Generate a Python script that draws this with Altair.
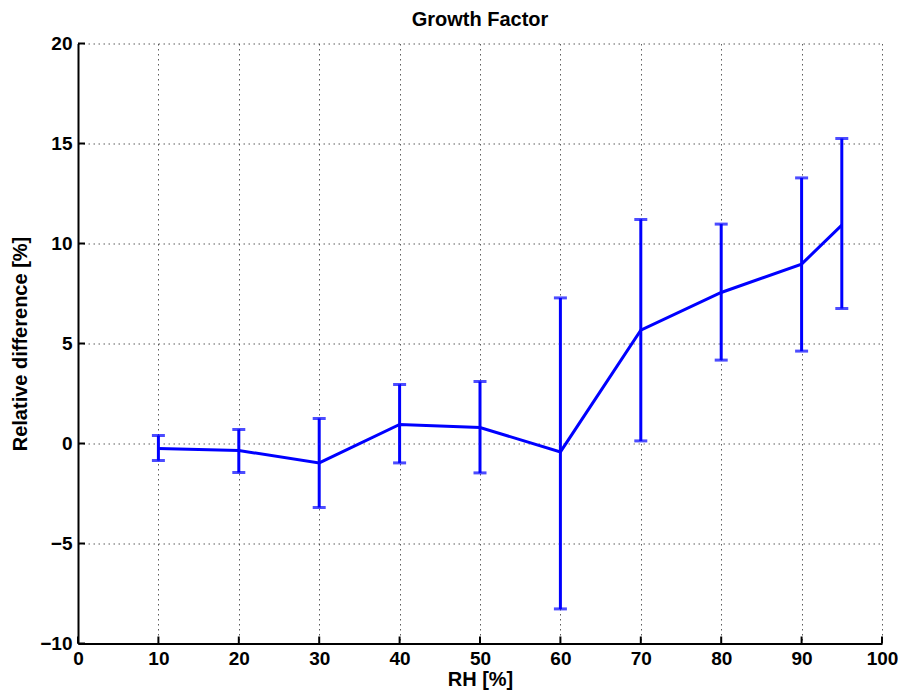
import altair as alt
import pandas as pd

# Relative difference of the growth factor vs. relative humidity
rh = [10, 20, 30, 40, 50, 60, 70, 80, 90, 95]
mean_diff = [-0.25, -0.35, -0.97, 0.95, 0.8, -0.42, 5.67, 7.55, 8.97, 10.92]
upper = [0.4, 0.7, 1.25, 2.95, 3.1, 7.28, 11.2, 10.97, 13.28, 15.25]
lower = [-0.85, -1.45, -3.2, -0.97, -1.47, -8.27, 0.13, 4.17, 4.62, 6.75]

x_ticks = [0, 10, 20, 30, 40, 50, 60, 70, 80, 90, 100]
y_ticks = [-10, -5, 0, 5, 10, 15, 20]

df = pd.DataFrame({"rh": rh, "mean": mean_diff, "lo": lower, "hi": upper})
xt = pd.DataFrame({"t": x_ticks})
yt = pd.DataFrame({"t": y_ticks})

W, H = 804, 600
FONT = "Liberation Sans"
BLUE = "#0000ff"

xs = alt.Scale(domain=[0, 100], nice=False, zero=False)
ys = alt.Scale(domain=[-10, 20], nice=False, zero=False)

common_axis = dict(
    tickSize=0,
    grid=True,
    gridDash=[1.5, 3.5],
    gridColor="#333333",
    gridWidth=1,
    gridOpacity=0.8,
    domainColor="black",
    domainWidth=2,
    labelFont=FONT,
    labelFontSize=19,
    labelFontWeight="bold",
    labelColor="black",
    labelFlush=False,
    labelOverlap=False,
    titleFont=FONT,
    titleFontSize=20,
    titleFontWeight="bold",
    titleColor="black",
)

x_axis = alt.Axis(values=x_ticks, labelPadding=6, title="RH [%]",
                  titleY=42, titleBaseline="alphabetic", format="d", **common_axis)
y_axis = alt.Axis(values=y_ticks, labelPadding=6, title="Relative difference [%]",
                  titleX=-52, titleAngle=-90, titleBaseline="alphabetic", format="d",
                  **common_axis)

base = alt.Chart(df)

line = base.mark_line(color=BLUE, strokeWidth=3).encode(
    x=alt.X("rh:Q", scale=xs, axis=x_axis),
    y=alt.Y("mean:Q", scale=ys, axis=y_axis),
)

bars = base.mark_rule(color=BLUE, strokeWidth=3).encode(
    x=alt.X("rh:Q", scale=xs),
    y=alt.Y("lo:Q", scale=ys),
    y2="hi:Q",
)

cap_lo = base.mark_tick(color=BLUE, orient="horizontal", size=13, thickness=3).encode(
    x=alt.X("rh:Q", scale=xs), y=alt.Y("lo:Q", scale=ys)
)
cap_hi = base.mark_tick(color=BLUE, orient="horizontal", size=13, thickness=3).encode(
    x=alt.X("rh:Q", scale=xs), y=alt.Y("hi:Q", scale=ys)
)

# inward tick marks on the bottom and left axes
x_tickmarks = alt.Chart(xt).mark_rule(color="black", strokeWidth=2).encode(
    x=alt.X("t:Q", scale=xs),
    y=alt.value(H),
    y2=alt.value(H - 7),
)
y_tickmarks = alt.Chart(yt).mark_rule(color="black", strokeWidth=2).encode(
    y=alt.Y("t:Q", scale=ys),
    x=alt.value(0),
    x2=alt.value(7),
)

chart = alt.layer(line, bars, cap_lo, cap_hi, x_tickmarks, y_tickmarks).properties(
    width=W,
    height=H,
    autosize="none",
    padding={"left": 78, "top": 43.5, "right": 19, "bottom": 50.5},
    title=alt.TitleParams(
        "Growth Factor", font=FONT, fontSize=20, fontWeight="bold", color="black",
        anchor="middle", frame="group", offset=5,
    ),
    background="white",
).configure_view(strokeWidth=0)

chart.save("out.html", embed_options={"renderer": "svg", "actions": False})
